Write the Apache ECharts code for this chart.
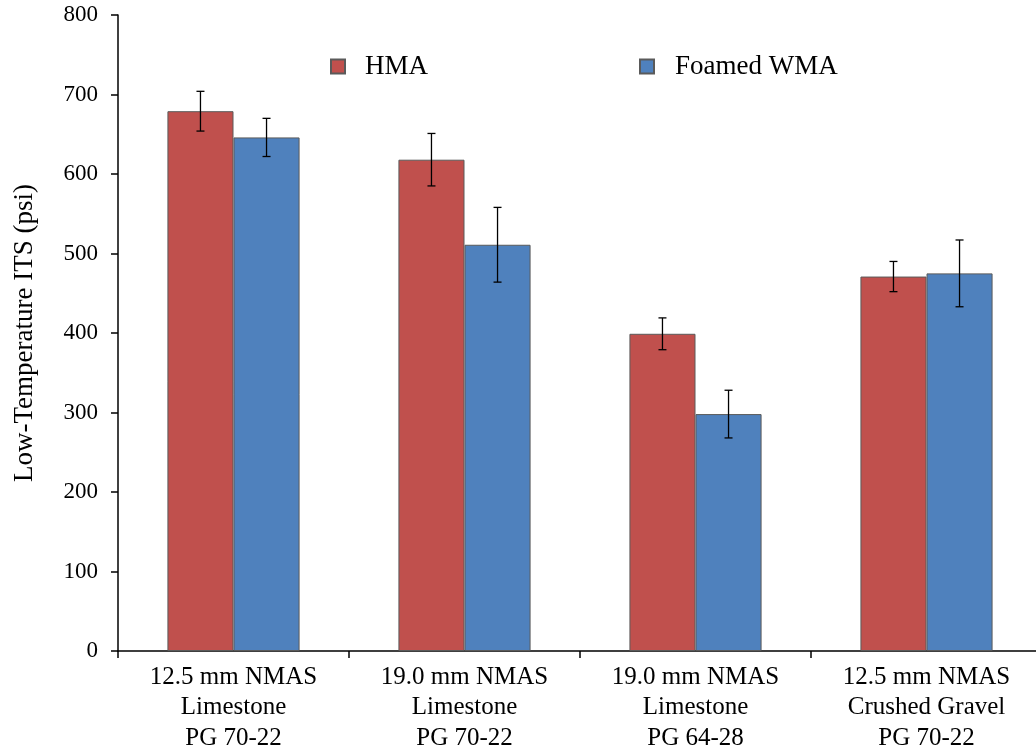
<!DOCTYPE html>
<html>
<head>
<meta charset="utf-8">
<script src="https://cdn.jsdelivr.net/npm/echarts@6/dist/echarts.min.js"></script>
<style>
  html, body { margin: 0; padding: 0; background: #fff; }
  #main { width: 1036px; height: 751px; }
</style>
</head>
<body>
<div id="main"></div>
<script>
var categories = [
    '12.5 mm NMAS\nLimestone\nPG 70-22',
    '19.0 mm NMAS\nLimestone\nPG 70-22',
    '19.0 mm NMAS\nLimestone\nPG 64-28',
    '12.5 mm NMAS\nCrushed Gravel\nPG 70-22'
];
var hmaValues = [679, 618, 399, 471];
var hmaErrors = [25, 33, 20, 19];
var wmaValues = [646, 511, 298, 475];
var wmaErrors = [24, 47, 30, 42];
var yTicks = [0, 100, 200, 300, 400, 500, 600, 700, 800];

var BAR_RATIO = 0.286;
var fontName = '"Liberation Serif", "Times New Roman", serif';

function errData(vals, errs) {
    var out = [];
    for (var i = 0; i < vals.length; i++) {
        out.push([i, vals[i] - errs[i], vals[i] + errs[i]]);
    }
    return out;
}

// side: -1 = left bar (HMA), 1 = right bar (WMA)
function makeErrorRender(side) {
    return function (params, api) {
        var idx = api.value(0);
        var lo = api.coord([idx, api.value(1)]);
        var hi = api.coord([idx, api.value(2)]);
        var bandW = api.size([1, 0])[0];
        var x = lo[0] + side * bandW * BAR_RATIO / 2;
        var cap = 4;
        var style = { stroke: '#000', lineWidth: 1.3 };
        return {
            type: 'group',
            children: [
                { type: 'line', shape: { x1: x, y1: lo[1], x2: x, y2: hi[1] }, style: style },
                { type: 'line', shape: { x1: x - cap, y1: lo[1], x2: x + cap, y2: lo[1] }, style: style },
                { type: 'line', shape: { x1: x - cap, y1: hi[1], x2: x + cap, y2: hi[1] }, style: style }
            ]
        };
    };
}

var myChart = echarts.init(document.getElementById('main'));
var option = {
    animation: false,
    textStyle: { fontFamily: fontName },
    grid: { left: 118, right: -6, top: 15, bottom: 100, containLabel: false, outerBoundsMode: 'none' },
    legend: [
        {
            left: 330, top: 53, padding: 0,
            data: ['HMA'],
            icon: 'rect', itemWidth: 14, itemHeight: 14,
            textStyle: { fontFamily: fontName, fontSize: 27, color: '#000', padding: [0, 0, 0, 15] }
        },
        {
            left: 639, top: 53, padding: 0,
            data: ['Foamed WMA'],
            icon: 'rect', itemWidth: 14, itemHeight: 14,
            textStyle: { fontFamily: fontName, fontSize: 27, color: '#000', padding: [0, 0, 0, 16] }
        }
    ],
    xAxis: {
        type: 'category',
        data: categories,
        axisLine: { lineStyle: { color: '#000', width: 1.5 } },
        axisTick: { show: true, length: 7, alignWithLabel: false, lineStyle: { color: '#000', width: 1.5 } },
        axisLabel: { color: '#000', fontSize: 25, fontFamily: fontName, lineHeight: 30.5, margin: 11 }
    },
    yAxis: {
        type: 'value',
        min: yTicks[0],
        max: yTicks[yTicks.length - 1],
        interval: 100,
        name: 'Low-Temperature ITS (psi)',
        nameLocation: 'middle',
        nameGap: 80,
        nameTextStyle: { color: '#000', fontSize: 27, fontFamily: fontName },
        axisLine: { show: true, lineStyle: { color: '#000', width: 1.5 } },
        axisTick: { show: true, length: 7, lineStyle: { color: '#000', width: 1.5 } },
        axisLabel: { color: '#000', fontSize: 23, fontFamily: fontName, margin: 20 },
        splitLine: { show: false }
    },
    series: [
        {
            name: 'HMA',
            type: 'bar',
            data: hmaValues,
            barWidth: (BAR_RATIO * 100) + '%',
            barGap: '0%',
            itemStyle: { color: '#C0504D', borderColor: '#5a5a5a', borderWidth: 1 }
        },
        {
            name: 'Foamed WMA',
            type: 'bar',
            data: wmaValues,
            barWidth: (BAR_RATIO * 100) + '%',
            barGap: '0%',
            itemStyle: { color: '#4F81BD', borderColor: '#5a5a5a', borderWidth: 1 }
        },
        {
            type: 'custom',
            renderItem: makeErrorRender(-1),
            data: errData(hmaValues, hmaErrors),
            encode: { x: 0, y: [1, 2] },
            z: 10
        },
        {
            type: 'custom',
            renderItem: makeErrorRender(1),
            data: errData(wmaValues, wmaErrors),
            encode: { x: 0, y: [1, 2] },
            z: 10
        }
    ]
};
myChart.setOption(option);
</script>
</body>
</html>
